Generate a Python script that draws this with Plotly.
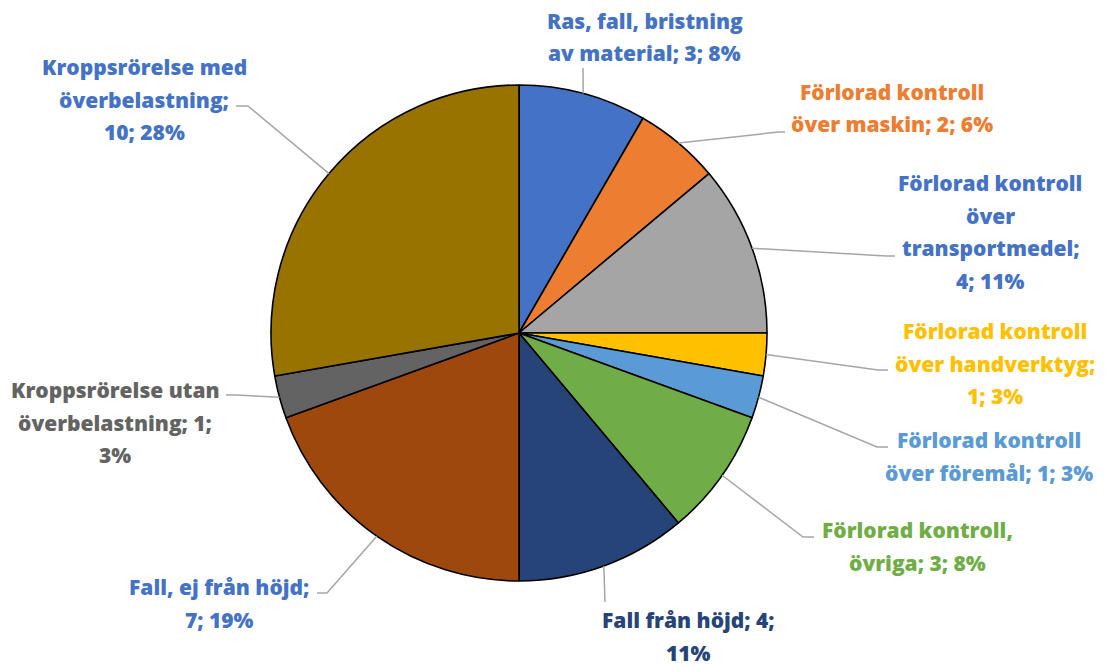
import math
import textwrap
import plotly.graph_objects as go

# Olycksorsaker: antal händelser per kategori
categories = [
    "Ras, fall, bristning av material",
    "Förlorad kontroll över maskin",
    "Förlorad kontroll över transportmedel",
    "Förlorad kontroll över handverktyg",
    "Förlorad kontroll över föremål",
    "Förlorad kontroll, övriga",
    "Fall från höjd",
    "Fall, ej från höjd",
    "Kroppsrörelse utan överbelastning",
    "Kroppsrörelse med överbelastning",
]
values = [3, 2, 4, 1, 1, 3, 4, 7, 1, 10]

slice_colors = ["#4472C4", "#ED7D31", "#A5A5A5", "#FFC000", "#5B9BD5",
                "#70AD47", "#264478", "#9E480E", "#636363", "#997300"]
label_colors = ["#4472C4", "#ED7D31", "#4472C4", "#FFC000", "#5B9BD5",
                "#70AD47", "#264478", "#4472C4", "#636363", "#4472C4"]

# Figure geometry (pixels)
W, H = 1108, 666
CX, CY, R = 519, 333, 248
FONT = "Open Sans"
FONT_SIZE = 21
FONT_WEIGHT = 800
LINE_GAP = 32.5
LEADER_COLOR = "#A6A6A6"

# Label placement: wrap width (chars), text centre x, first line y,
# leader elbow (x, y), leader end x
label_layout = [
    (20, 645, 21, (583, 68), 583),
    (18, 892, 92, (779, 132), 785),
    (17, 990, 183, (886, 256), 895),
    (17, 995, 331, (878, 370), 888),
    (19, 989, 440, (877, 447), 888),
    (18, 917, 530, (803, 537), 814),
    (18, 688, 620, (605, 602), 605),
    (19, 219, 587, (327, 593), 317),
    (18, 115, 390, (236, 395), 226),
    (17, 144, 67, (248, 106), 236),
]


def px(x):
    return x / W


def py(y):
    return 1 - y / H


fig = go.Figure(go.Pie(
    labels=categories,
    values=values,
    sort=False,
    direction="clockwise",
    rotation=0,
    marker=dict(colors=slice_colors, line=dict(color="#000000", width=1.6)),
    textinfo="none",
    hoverinfo="label+value+percent",
    showlegend=False,
    domain=dict(x=[px(CX - R), px(CX + R)], y=[py(CY + R), py(CY - R)]),
))

total = sum(values)
annotations = []
shapes = []
cum = 0
for name, val, col, lay in zip(categories, values, label_colors, label_layout):
    wrap, tx, ty, (ex, ey), endx = lay
    pct = round(val / total * 100)
    text = f"{name}; {val}; {pct}%"
    lines = textwrap.wrap(text, width=wrap)
    for i, line in enumerate(lines):
        annotations.append(dict(
            x=px(tx), y=py(ty + i * LINE_GAP), xref="paper", yref="paper",
            text=line, showarrow=False, xanchor="center", yanchor="middle",
            font=dict(family=FONT, size=FONT_SIZE, color=col,
                      weight=FONT_WEIGHT),
        ))
    # leader line from the slice's mid-angle on the rim
    mid = (cum + val / 2) / total * 2 * math.pi
    sx = CX + R * math.sin(mid)
    sy = CY - R * math.cos(mid)
    path = (f"M {px(sx)} {py(sy)} L {px(ex)} {py(ey)} "
            f"L {px(endx)} {py(ey)}")
    shapes.append(dict(type="path", path=path, xref="paper", yref="paper",
                       line=dict(color=LEADER_COLOR, width=1.5)))
    cum += val

fig.update_layout(
    width=W, height=H,
    margin=dict(l=0, r=0, t=0, b=0),
    paper_bgcolor="#FFFFFF",
    plot_bgcolor="#FFFFFF",
    annotations=annotations,
    shapes=shapes,
)

fig.write_html("out.html")
